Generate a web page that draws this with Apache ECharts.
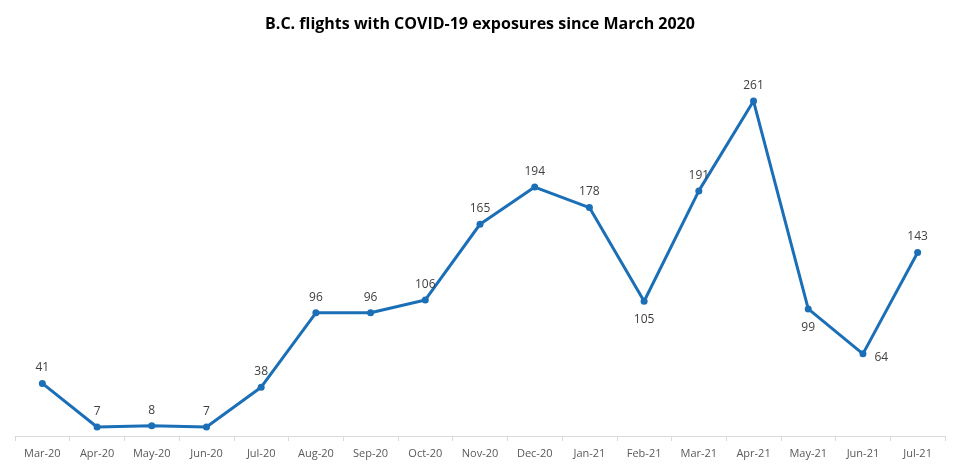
<!DOCTYPE html>
<html>
<head>
<meta charset="utf-8">
<script src="https://cdn.jsdelivr.net/npm/echarts@6/dist/echarts.min.js"></script>
<style>
  html, body { margin: 0; padding: 0; background: #fff; }
  #chart { width: 960px; height: 469px; }
</style>
</head>
<body>
<div id="chart"></div>
<script>
  // 月份
  var months = ['Mar-20', 'Apr-20', 'May-20', 'Jun-20', 'Jul-20', 'Aug-20', 'Sep-20', 'Oct-20',
    'Nov-20', 'Dec-20', 'Jan-21', 'Feb-21', 'Mar-21', 'Apr-21', 'May-21', 'Jun-21', 'Jul-21'];
  // 每月航班数
  var flights = [41, 7, 8, 7, 38, 96, 96, 106, 165, 194, 178, 105, 191, 261, 99, 64, 143];

  // 标签放在点下方或右侧的月份
  var labelBelow = { 'Feb-21': true, 'May-21': true };
  var labelRight = { 'Jun-21': true };

  var chart = echarts.init(document.getElementById('chart'));

  var seriesData = flights.map(function (v, i) {
    var m = months[i];
    var item = { value: v };
    if (labelBelow[m]) item.label = { position: 'bottom', distance: 9 };
    if (labelRight[m]) item.label = { position: 'right', distance: 8, offset: [0, 4] };
    return item;
  });

  chart.setOption({
    animation: false,
    textStyle: { fontFamily: 'Open Sans' },
    title: {
      text: 'B.C. flights with COVID-19 exposures since March 2020',
      left: 'center',
      top: 11,
      textStyle: { fontSize: 16, fontWeight: 'bold', color: '#000', fontFamily: 'Open Sans' }
    },
    grid: { left: 15, right: 15, top: 51, bottom: 33 },
    xAxis: {
      type: 'category',
      data: months,
      boundaryGap: true,
      axisLine: { lineStyle: { color: '#d9d9d9', width: 1 } },
      axisTick: { show: true, length: 5, lineStyle: { color: '#d9d9d9' } },
      axisLabel: { color: '#595959', fontSize: 11, margin: 12 }
    },
    yAxis: {
      type: 'value',
      min: 0,
      max: 300,
      show: false,
      splitLine: { show: false }
    },
    series: [{
      type: 'line',
      data: seriesData,
      symbol: 'circle',
      symbolSize: 7,
      itemStyle: { color: '#1b6fb7' },
      lineStyle: { color: '#1b6fb7', width: 3 },
      label: {
        show: true,
        position: 'top',
        distance: 6,
        color: '#404040',
        fontSize: 12
      }
    }]
  });
</script>
</body>
</html>
